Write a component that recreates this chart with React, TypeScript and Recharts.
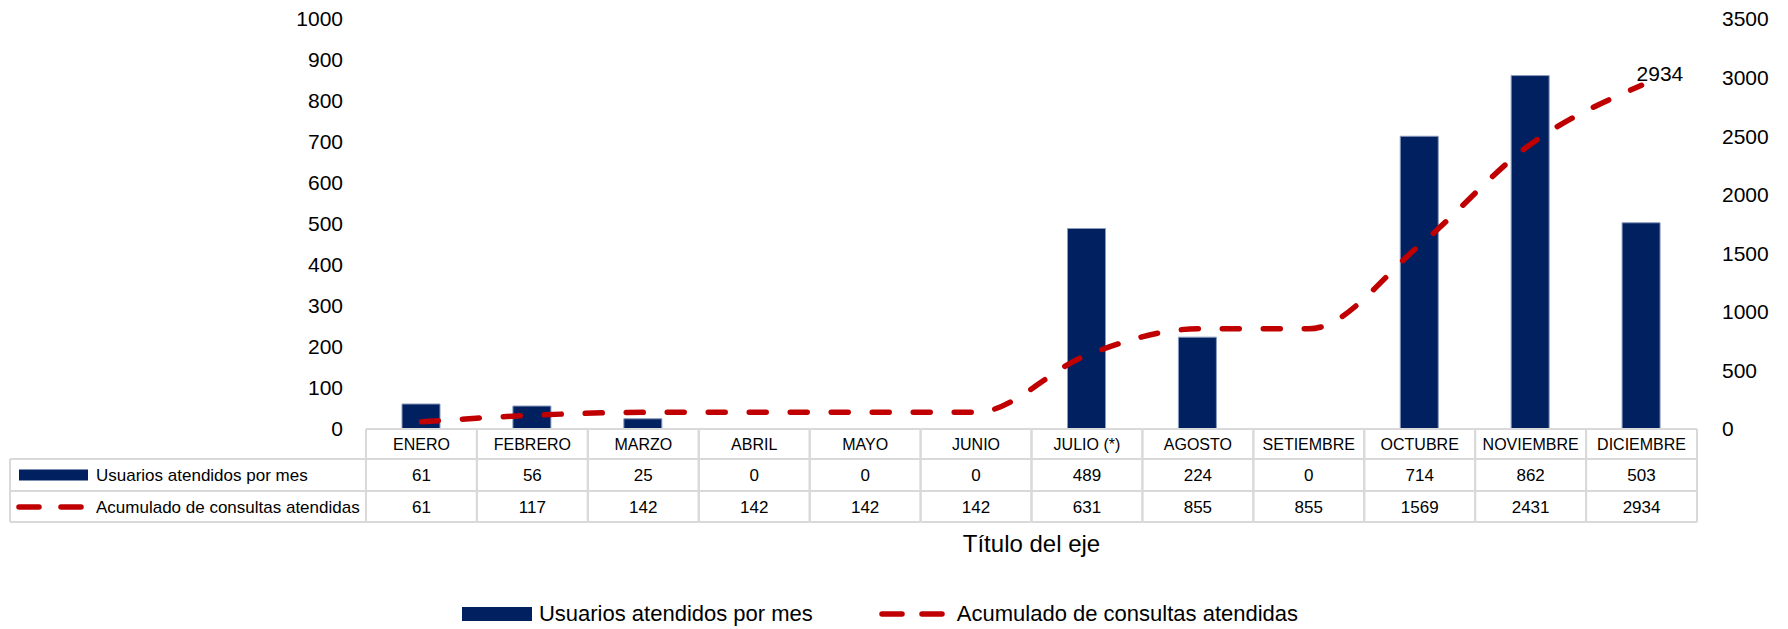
import { ComposedChart, Bar, Line, XAxis, YAxis, Legend, LabelList } from "recharts"

const months = [
  "ENERO",
  "FEBRERO",
  "MARZO",
  "ABRIL",
  "MAYO",
  "JUNIO",
  "JULIO (*)",
  "AGOSTO",
  "SETIEMBRE",
  "OCTUBRE",
  "NOVIEMBRE",
  "DICIEMBRE",
]
const usuarios = [61, 56, 25, 0, 0, 0, 489, 224, 0, 714, 862, 503]
const acumulado = [61, 117, 142, 142, 142, 142, 631, 855, 855, 1569, 2431, 2934]
const leftTicks = [0, 100, 200, 300, 400, 500, 600, 700, 800, 900, 1000]
const rightTicks = [0, 500, 1000, 1500, 2000, 2500, 3000, 3500]

const usuariosName = "Usuarios atendidos por mes"
const acumuladoName = "Acumulado de consultas atendidas"

const data = months.map((month, i) => ({
  month,
  usuarios: usuarios[i],
  acumulado: acumulado[i],
}))

// layout
const W = 1788
const H = 629
const PLOT_LEFT = 366
const PLOT_RIGHT = 1697
const PLOT_TOP = 19
const PLOT_BOTTOM = 429
const LEGEND_H = 30
const COL_W = (PLOT_RIGHT - PLOT_LEFT) / months.length
const ROW1 = 459
const ROW2 = 491
const TABLE_BOTTOM = 522
const TABLE_LEFT = 10

const NAVY = "#002060"
const RED = "#C00000"
const GRID = "#D9D9D9"
const FONT = "'Liberation Sans', Arial, sans-serif"

// left side of the data table: series keys + names
function TableLegend() {
  return (
    <g>
      {[ROW1, ROW2, TABLE_BOTTOM].map((y) => (
        <line key={y} x1={TABLE_LEFT} x2={PLOT_LEFT} y1={y} y2={y} stroke={GRID} strokeWidth={2} />
      ))}
      <line x1={TABLE_LEFT} x2={TABLE_LEFT} y1={ROW1} y2={TABLE_BOTTOM} stroke={GRID} strokeWidth={2} />
      <rect x={19} y={469.5} width={69} height={11} fill={NAVY} />
      <text x={96} y={(ROW1 + ROW2) / 2} dy="0.355em" fontSize={17} fill="#000">
        {usuariosName}
      </text>
      <line x1={19} x2={39} y1={507} y2={507} stroke={RED} strokeWidth={5.5} strokeLinecap="round" />
      <line x1={61} x2={81} y1={507} y2={507} stroke={RED} strokeWidth={5.5} strokeLinecap="round" />
      <text x={96} y={(ROW2 + TABLE_BOTTOM) / 2} dy="0.355em" fontSize={17} fill="#000">
        {acumuladoName}
      </text>
    </g>
  )
}

// one column of the data table, drawn as the x axis tick
function TableColumn(props: any) {
  const { x, index, payload } = props
  const i = typeof index === "number" ? index : payload.index
  const left = x - COL_W / 2
  const right = x + COL_W / 2
  return (
    <g>
      {i === 0 && <TableLegend />}
      {[PLOT_BOTTOM, ROW1, ROW2, TABLE_BOTTOM].map((y) => (
        <line key={y} x1={left} x2={right} y1={y} y2={y} stroke={GRID} strokeWidth={2} />
      ))}
      <line x1={left} x2={left} y1={PLOT_BOTTOM} y2={TABLE_BOTTOM} stroke={GRID} strokeWidth={2} />
      <line x1={right} x2={right} y1={PLOT_BOTTOM} y2={TABLE_BOTTOM} stroke={GRID} strokeWidth={2} />
      <text x={x} y={(PLOT_BOTTOM + ROW1) / 2} dy="0.355em" textAnchor="middle" fontSize={16} fill="#000">
        {payload.value}
      </text>
      <text x={x} y={(ROW1 + ROW2) / 2} dy="0.355em" textAnchor="middle" fontSize={17} fill="#000">
        {usuarios[i]}
      </text>
      <text x={x} y={(ROW2 + TABLE_BOTTOM) / 2} dy="0.355em" textAnchor="middle" fontSize={17} fill="#000">
        {acumulado[i]}
      </text>
    </g>
  )
}

function BottomLegend() {
  return (
    <div
      style={{
        height: LEGEND_H,
        display: "flex",
        alignItems: "center",
        justifyContent: "center",
        paddingRight: 28,
        fontSize: 22,
        color: "#000",
      }}
    >
      <svg width={70} height={14} style={{ marginRight: 7 }}>
        <rect x={0} y={0} width={70} height={14} fill={NAVY} />
      </svg>
      <span>{usuariosName}</span>
      <svg width={66} height={14} style={{ marginLeft: 66, marginRight: 12 }}>
        <line x1={3} x2={23} y1={7} y2={7} stroke={RED} strokeWidth={5.5} strokeLinecap="round" />
        <line x1={43} x2={63} y1={7} y2={7} stroke={RED} strokeWidth={5.5} strokeLinecap="round" />
      </svg>
      <span>{acumuladoName}</span>
    </div>
  )
}

function LastLabel(props: any) {
  const { x, y, value, index } = props
  if (index !== acumulado.length - 1) return null
  return (
    <text x={x - 5} y={y - 12} dy="0.355em" fontSize={21} fill="#000">
      {value}
    </text>
  )
}

export default function App() {
  return (
    <div style={{ width: W, height: H, fontFamily: FONT }}>
      <style>{"body{margin:0}"}</style>
      <ComposedChart
        width={W}
        height={H}
        data={data}
        margin={{ top: PLOT_TOP, right: 0, bottom: 0, left: 0 }}
      >
        <XAxis
          dataKey="month"
          xAxisId="x"
          interval={0}
          height={H - PLOT_BOTTOM - LEGEND_H}
          axisLine={false}
          tickLine={false}
          tick={(p: any) => <TableColumn {...p} />}
          label={{
            value: "Título del eje",
            position: "insideTop",
            offset: 106,
            fontSize: 24,
            fill: "#000",
          }}
        />
        <YAxis
          yAxisId="left"
          orientation="left"
          width={PLOT_LEFT}
          domain={[0, 1000]}
          ticks={leftTicks}
          interval={0}
          axisLine={false}
          tickLine={false}
          tickMargin={17}
          tick={{ fontSize: 21, fill: "#000" }}
        />
        <YAxis
          yAxisId="right"
          orientation="right"
          width={W - PLOT_RIGHT}
          domain={[0, 3500]}
          ticks={rightTicks}
          interval={0}
          axisLine={false}
          tickLine={false}
          tickMargin={19}
          tick={{ fontSize: 21, fill: "#000", textAnchor: "start" }}
        />
        <Bar
          dataKey="usuarios"
          name={usuariosName}
          xAxisId="x"
          yAxisId="left"
          fill={NAVY}
          stroke="#8A9BBD"
          strokeWidth={1}
          barSize={38}
          isAnimationActive={false}
        />
        <Line
          dataKey="acumulado"
          name={acumuladoName}
          xAxisId="x"
          yAxisId="right"
          type="monotone"
          stroke={RED}
          strokeWidth={5.5}
          strokeDasharray="17 24"
          strokeLinecap="round"
          dot={false}
          activeDot={false}
          isAnimationActive={false}
        >
          <LabelList dataKey="acumulado" content={(p: any) => <LastLabel {...p} />} />
        </Line>
        <Legend verticalAlign="bottom" align="center" content={() => <BottomLegend />} />
      </ComposedChart>
    </div>
  )
}
